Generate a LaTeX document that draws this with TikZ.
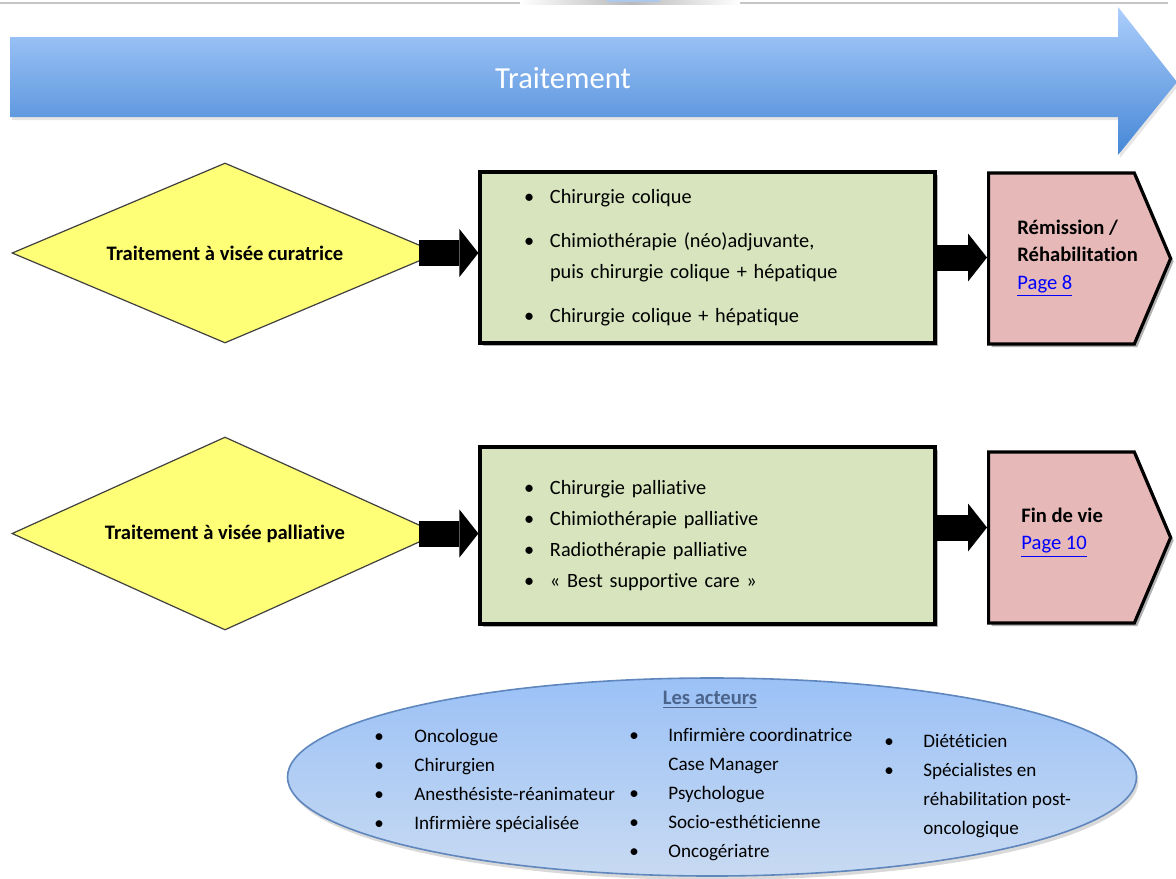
\documentclass[tikz,border=0pt]{standalone}
\usepackage{fontspec}
\setmainfont{Carlito}[Ligatures=NoCommon]
\usepackage{xcolor}
\usepackage{tikz}
\usetikzlibrary{arrows.meta, positioning, shapes.geometric, shapes.symbols, shadows}

\definecolor{bleuhaut}{RGB}{172,206,252}
\definecolor{bleubas}{RGB}{70,135,214}
\definecolor{jaune}{RGB}{255,255,119}
\definecolor{vertclair}{RGB}{215,228,189}
\definecolor{rose}{RGB}{230,184,183}
\definecolor{lien}{RGB}{0,0,255}
\definecolor{ellhaut}{RGB}{155,193,246}
\definecolor{ellbas}{RGB}{200,218,242}
\definecolor{ellbord}{RGB}{95,135,190}
\definecolor{acteur}{RGB}{75,100,140}

\newcommand{\puce}[1]{\makebox[#1][l]{\textbullet}}
\newcommand{\lien}[1]{\textcolor{lien}{\underline{#1}}}

\begin{document}
\begin{tikzpicture}[
  x=0.5pt, y=-0.5pt,
  ombre/.style={drop shadow={shadow xshift=1.5pt, shadow yshift=-1.5pt,
      opacity=0.3, fill=black}},
  losange/.style={
    diamond, aspect=2.3, inner sep=0pt,
    draw=black!75, line width=0.6pt, fill=jaune,
    minimum width=213pt,
    font=\fontsize{10.3}{13}\selectfont\bfseries},
  liste/.style={
    rectangle, draw=black, line width=1.6pt, fill=vertclair, ombre,
    minimum width=227.5pt, text width=183.5pt, inner xsep=22pt,
    align=left, font=\fontsize{10.15}{15.5}\selectfont},
  issue/.style={
    signal, signal to=east, signal pointer angle=134,
    draw=black, line width=1.6pt, fill=rose, ombre,
    minimum width=91pt, minimum height=85.5pt},
  issuetxt/.style={anchor=west, inner sep=0pt, align=left,
    font=\fontsize{10.3}{13.75}\selectfont},
  fleche/.style={-{Triangle[length=9.5pt, width=24pt, line width=0pt]},
    line width=13pt, draw=black},
  acteurs/.style={anchor=north west, inner sep=0pt, align=left,
    font=\fontsize{9.55}{14.5}\selectfont}
]
\useasboundingbox (0,0) rectangle (1176,878);

%% Top rule
\draw[gray!45, line width=1pt] (0,3) -- (1168,3);
\shade[left color=white, right color=white, middle color=gray!55]
  (520,0) rectangle (740,4);
\fill[bleubas!45] (607,0) rectangle (660,2);

%% Timeline arrow
\path[top color=bleuhaut, bottom color=bleubas,
      drop shadow={shadow xshift=1pt, shadow yshift=-1.5pt, opacity=0.2}]
  (10,37) -- (1118,37) -- (1118,7) -- (1177,82) -- (1118,155)
  -- (1118,117) -- (10,117) -- cycle;
\node[font=\fontsize{15.3}{18}\selectfont, text=white] (titre) at (563,78) {Traitement};

%% Decision nodes
\node[losange, minimum height=90pt]   (cur) at (225,253)   {Traitement à visée curatrice};
\node[losange, minimum height=96.5pt] (pal) at (225,533.5) {Traitement à visée palliative};

%% Treatment lists
\node[liste, minimum height=85.5pt] (soins1) at (707.5,257.5) {%
  \puce{13pt}Chirurgie colique\\[6.5pt]
  \puce{13pt}Chimiothérapie (néo)adjuvante,\\
  \hspace*{13pt}puis chirurgie colique + hépatique\\[6.5pt]
  \puce{13pt}Chirurgie colique + hépatique};
\node[liste, minimum height=88.5pt] (soins2) at (707.5,535.5) {%
  \puce{13pt}Chirurgie palliative\\
  \puce{13pt}Chimiothérapie palliative\\
  \puce{13pt}Radiothérapie palliative\\
  \puce{13pt}«~Best supportive care~»};

%% Outcomes
\node[issue, anchor=west] (remission) at (987,258.5) {};
\node[issuetxt] (remtxt) at ([xshift=15pt]remission.west) {%
  \textbf{Rémission /}\\\textbf{Réhabilitation}\\\lien{Page 8}};
\node[issue, anchor=west] (fin) at (987,537.5) {};
\node[issuetxt] (fintxt) at ([xshift=17pt, yshift=2.5pt]fin.west) {%
  \textbf{Fin de vie}\\\lien{Page 10}};

%% Arrows
\draw[fleche] ([xshift=-10pt]cur.east) -- (cur.east -| soins1.west);
\draw[fleche] (soins1.east) -- (soins1.east -| remission.west);
\draw[fleche] ([xshift=-10pt]pal.east) -- (pal.east -| soins2.west);
\draw[fleche] ([yshift=4pt]soins2.east) -- ([yshift=4pt]soins2.east -| fin.west);

%% Care team
\node[ellipse, draw=ellbord, line width=0.8pt,
      top color=ellhaut, bottom color=ellbas,
      minimum width=424.5pt, minimum height=99pt,
      drop shadow={shadow xshift=1pt, shadow yshift=-2pt, opacity=0.3}]
  (equipe) at (712,777) {};
\node[font=\fontsize{10.3}{12}\selectfont\bfseries, text=acteur]
  (titreact) at (710,700) {\underline{Les acteurs}};
\node[acteurs] (col1) at (374,729) {%
  \puce{20pt}Oncologue\\
  \puce{20pt}Chirurgien\\
  \puce{20pt}Anesthésiste-réanimateur\\
  \puce{20pt}Infirmière spécialisée};
\node[acteurs] (col2) at (629,728) {%
  \puce{19.5pt}Infirmière coordinatrice\\
  \hspace*{19.5pt}Case Manager\\
  \puce{19.5pt}Psychologue\\
  \puce{19.5pt}Socio-esthéticienne\\
  \puce{19.5pt}Oncogériatre};
\node[acteurs] (col3) at (884,734) {%
  \puce{19.5pt}Diététicien\\
  \puce{19.5pt}Spécialistes en\\
  \hspace*{19.5pt}réhabilitation post-\\
  \hspace*{19.5pt}oncologique};

\end{tikzpicture}
\end{document}
